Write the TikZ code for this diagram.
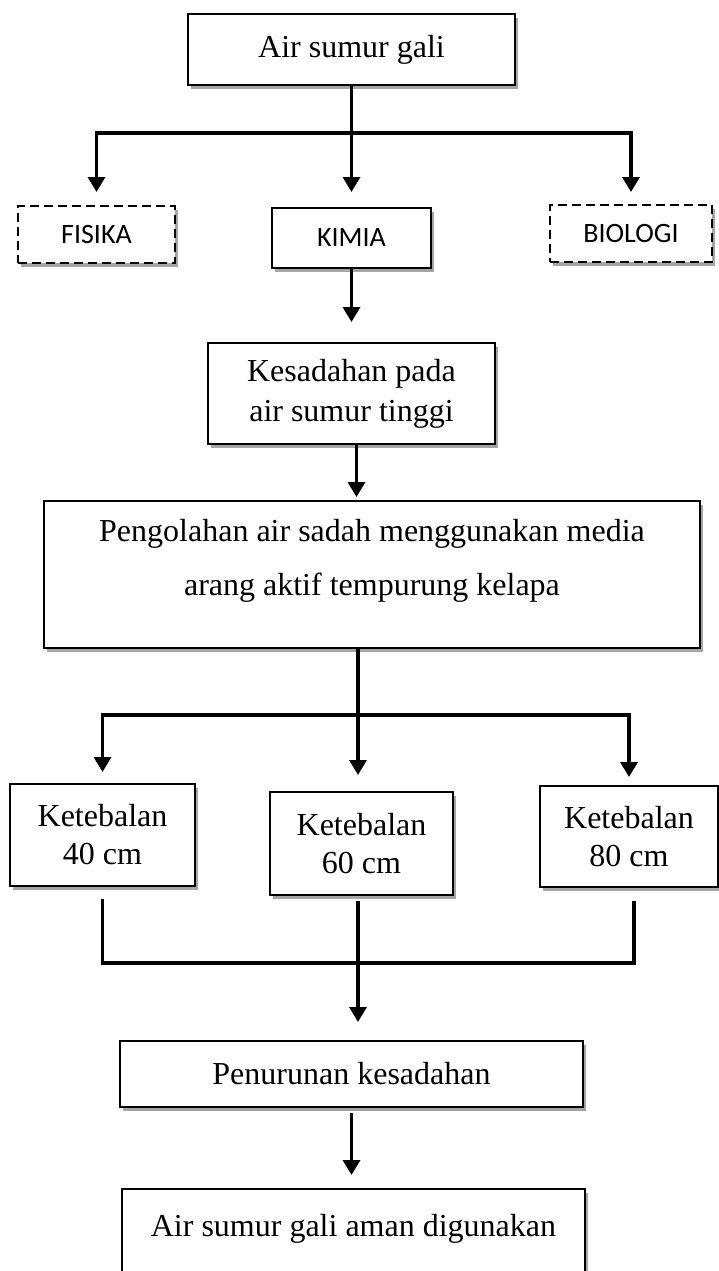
\documentclass[tikz,border=0pt]{standalone}
\usepackage{fontspec}
\setmainfont{Liberation Serif}
\newfontfamily\calibrifont{Carlito}
\usetikzlibrary{arrows.meta, positioning, shadows}

\begin{document}
\begin{tikzpicture}[
  block/.style={rectangle, draw, line width=2.6pt, fill=white, outer sep=0pt, inner sep=2pt, align=center,
    font=\fontsize{32}{40}\selectfont,
    drop shadow={shadow xshift=3pt, shadow yshift=-4pt, opacity=.5, fill=black!70}},
  tag/.style={block, font=\calibrifont\fontsize{28}{34}\selectfont},
  maybetag/.style={tag, dash pattern=on 9pt off 5pt},
  link/.style={line width=3.4pt},
  >={Triangle[width=17pt,length=15pt]}
]
\useasboundingbox (0,0) rectangle (719pt,-1271pt);

\node[block, minimum width=327pt, minimum height=71pt] (sumur) at (351.5pt,-49.5pt) {Air sumur gali};
\node[tag, below=123pt of sumur, minimum width=159pt, minimum height=60pt] (kimia) {KIMIA};
\node[maybetag, left=97pt of kimia, yshift=3.5pt, minimum width=157pt, minimum height=57pt] (fisika) {FISIKA};
\node[maybetag, right=119pt of kimia, yshift=4.5pt, minimum width=162pt, minimum height=57pt] (biologi) {BIOLOGI};
\node[block, below=75pt of kimia, minimum width=287pt, minimum height=101pt] (kesadahan) {Kesadahan pada\\air sumur tinggi};
\node[block, below=57pt of kesadahan, xshift=20.5pt, minimum width=656pt, minimum height=147pt,
  font=\fontsize{32}{54}\selectfont, text height=76pt, text depth=35pt] (olah)
  {Pengolahan air sadah menggunakan media\\arang aktif tempurung kelapa};
\node[block, below=144pt of olah, xshift=-10.5pt, minimum width=183pt, minimum height=103pt,
  font=\fontsize{32}{38}\selectfont] (teb60) {Ketebalan\\60 cm};
\node[block, left=75pt of teb60, yshift=8.5pt, minimum width=185pt, minimum height=102pt,
  font=\fontsize{32}{38}\selectfont] (teb40) {Ketebalan\\40 cm};
\node[block, right=87pt of teb60, yshift=7pt, minimum width=178pt, minimum height=101pt,
  font=\fontsize{32}{38}\selectfont] (teb80) {Ketebalan\\80 cm};
\node[block, below=146pt of teb60, xshift=-10pt, minimum width=463pt, minimum height=66pt] (turun) {Penurunan kesadahan};
\node[block, below=82pt of turun, xshift=2pt, minimum width=463pt, minimum height=120pt,
  text height=22pt, text depth=48pt] (aman) {Air sumur gali aman digunakan};

% percabangan parameter
\coordinate (j1) at ([yshift=-48pt]sumur.south);
\draw[link] (sumur.south) -- (j1);
\draw[link, ->] (j1) -| ([yshift=14pt]fisika.north);
\draw[link, ->] (j1) -| ([yshift=13pt]biologi.north);
\draw[link, ->] (j1) -- ([yshift=16pt]kimia.north);
\draw[link, ->, shorten >=21pt] (kimia.south) -- (kimia.south |- kesadahan.north);
\draw[link, ->, shorten >=4pt] ([xshift=5pt]kesadahan.south) -- ([xshift=5pt]kesadahan.south |- olah.north);

% variasi ketebalan
\coordinate (j2) at ([xshift=-14pt,yshift=-67pt]olah.south);
\draw[link] (olah.south -| j2) -- (j2);
\draw[link, ->] (j2) -| ([yshift=12pt]teb40.north);
\draw[link, ->, shorten >=17pt] (j2) -- (j2 |- teb60.north);
\draw[link, ->] (j2) -| ([yshift=9pt]teb80.north);

% hasil
\coordinate (j3) at ([xshift=-3.5pt,yshift=-68pt]teb60.south);
\draw[link] ([yshift=-13pt]teb40.south) |- (j3) -| ([xshift=5pt,yshift=-14pt]teb80.south);
\draw[link, ->, shorten <=6pt, shorten >=19pt] (teb60.south -| j3) -- (j3 |- turun.north);
\draw[link, ->, shorten <=6pt, shorten >=14pt] (turun.south) -- (turun.south |- aman.north);
\end{tikzpicture}
\end{document}
